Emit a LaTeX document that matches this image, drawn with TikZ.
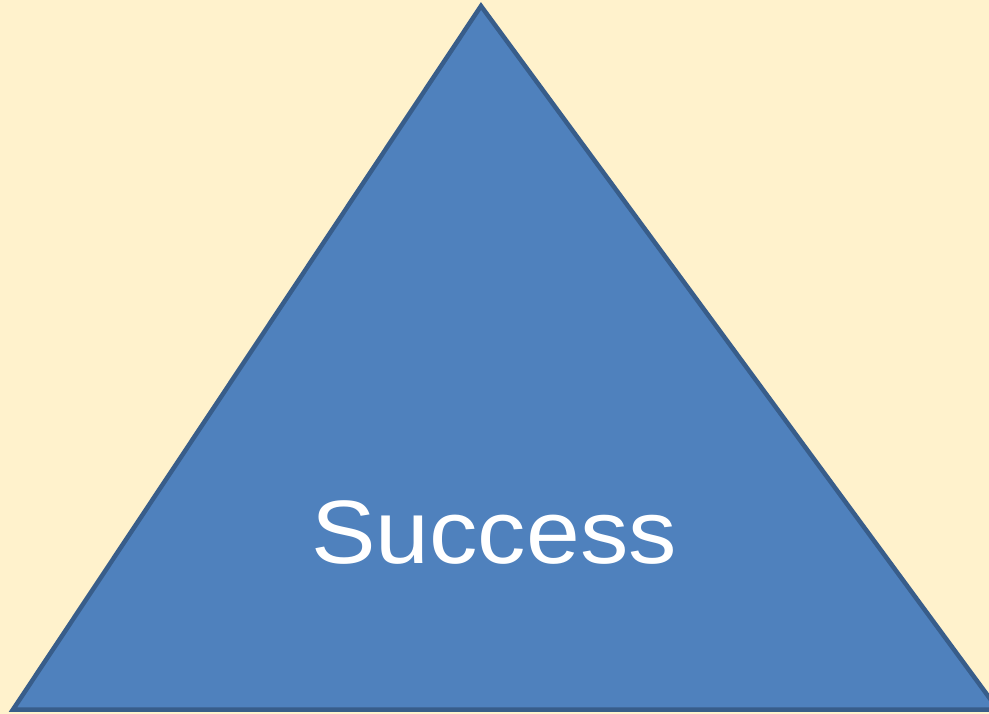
\documentclass[tikz,border=0pt]{standalone}
\usepackage{fontspec}
\setmainfont{Liberation Sans}
\usepackage{tikz}
\usetikzlibrary{shapes,arrows, positioning}
\definecolor{cream}{HTML}{FFF2CC}
\definecolor{tblue}{HTML}{4F81BD}
\definecolor{tedge}{HTML}{385D8A}
\tikzstyle{bground} = [fill=cream]
\tikzstyle{tri} = [fill=tblue, draw=tedge, line width=4.5pt, line join=miter]
\tikzstyle{label} = [text=white, font=\fontsize{90}{90}\selectfont, inner sep=0pt, anchor=base, xscale=1.075]

\begin{document}
\begin{tikzpicture}[x=1pt, y=-1pt]
				\path [bground] (0,0) rectangle (989,714);
				\useasboundingbox (0,0) rectangle (989,714);
				\clip (0,0) rectangle (989,714);
				\coordinate (top) at (481, 6);
				\coordinate (left) at (13, 709.5);
				\coordinate (right) at (998, 709.5);

				\path [tri] (top) -- (left) -- (right) -- cycle;
				\node [label] (success) at (494, 563) {Success};
			\end{tikzpicture}
\end{document}
